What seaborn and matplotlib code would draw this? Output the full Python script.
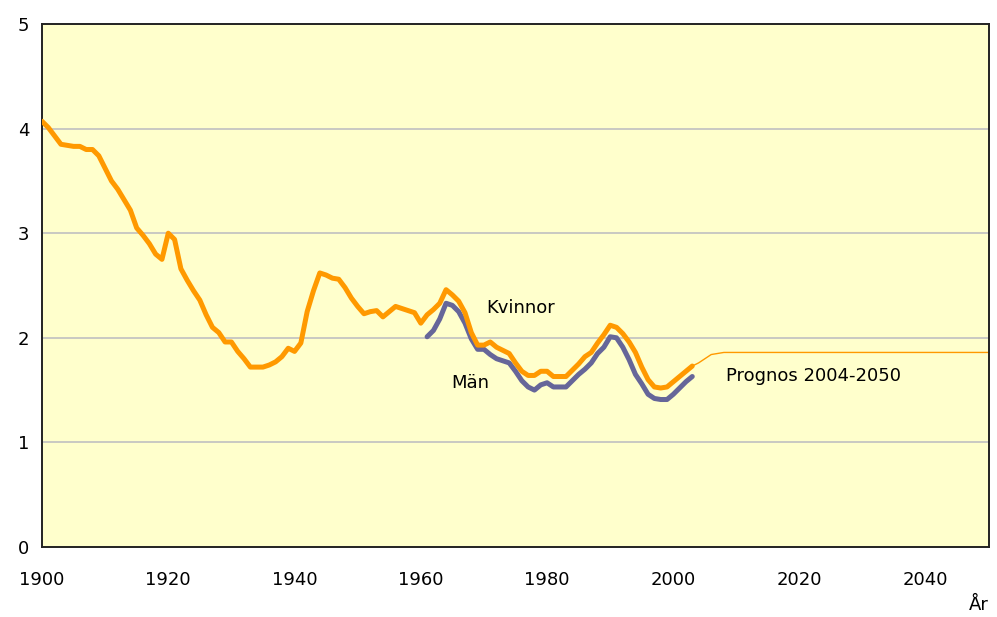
import numpy as np
import pandas as pd
import seaborn as sns
import matplotlib.pyplot as plt

# Summerad fruktsamhet, kvinnor 1900-2003
kvinnor_ar = list(range(1900, 2004))
kvinnor = [4.07, 4.01, 3.93, 3.85, 3.84, 3.83, 3.83, 3.80, 3.80, 3.74,
           3.62, 3.50, 3.42, 3.32, 3.22, 3.05, 2.98, 2.90, 2.80, 2.75,
           3.00, 2.94, 2.66, 2.55, 2.45, 2.36, 2.22, 2.10, 2.05, 1.96,
           1.96, 1.87, 1.80, 1.72, 1.72, 1.72, 1.74, 1.77, 1.82, 1.90,
           1.87, 1.95, 2.25, 2.45, 2.62, 2.60, 2.57, 2.56, 2.48, 2.38,
           2.30, 2.23, 2.25, 2.26, 2.20, 2.25, 2.30, 2.28, 2.26, 2.24,
           2.14, 2.22, 2.27, 2.33, 2.46, 2.41, 2.35, 2.24, 2.05, 1.93,
           1.93, 1.96, 1.91, 1.88, 1.85, 1.76, 1.68, 1.64, 1.64, 1.68,
           1.68, 1.63, 1.63, 1.63, 1.69, 1.75, 1.82, 1.86, 1.95, 2.03,
           2.12, 2.10, 2.04, 1.96, 1.86, 1.72, 1.60, 1.53, 1.52, 1.53,
           1.58, 1.63, 1.68, 1.73]

# Män 1961-2003
man_ar = list(range(1961, 2004))
man = [2.01, 2.07, 2.18, 2.33, 2.31, 2.25, 2.14, 1.99, 1.89,
       1.89, 1.84, 1.80, 1.78, 1.76, 1.68, 1.59, 1.53, 1.50, 1.55,
       1.57, 1.53, 1.53, 1.53, 1.59, 1.65, 1.70, 1.76, 1.85, 1.91,
       2.01, 2.00, 1.91, 1.79, 1.65, 1.56, 1.46, 1.42, 1.41, 1.41,
       1.46, 1.52, 1.58, 1.63]

# Prognos 2004-2050
prognos_ar = [2003, 2004, 2005, 2006, 2007, 2008, 2050]
prognos = [1.73, 1.76, 1.80, 1.84, 1.85, 1.86, 1.86]

xticks = list(range(1900, 2041, 20))
yticks = [0, 1, 2, 3, 4, 5]

orange = "#FF9900"
lila = "#666699"

sns.set_style("white")
plt.rcParams['font.family'] = ['DejaVu Sans']
plt.rcParams['text.color'] = 'black'

fig = plt.figure(figsize=(9.97, 6.17), dpi=100)
ax = fig.add_axes([42 / 997, 70 / 617, 947 / 997, 523 / 617])
ax.set_facecolor("#FFFFCC")

for y in [1, 2, 3, 4]:
    ax.axhline(y, color="#C0C0C0", lw=1.2, zorder=1)

df_k = pd.DataFrame({"ar": kvinnor_ar, "varde": kvinnor})
df_m = pd.DataFrame({"ar": man_ar, "varde": man})
df_p = pd.DataFrame({"ar": prognos_ar, "varde": prognos})

sns.lineplot(data=df_p, x="ar", y="varde", color=orange, lw=1.0, ax=ax, zorder=2)
sns.lineplot(data=df_m, x="ar", y="varde", color=lila, lw=3.6, ax=ax, zorder=3)
sns.lineplot(data=df_k, x="ar", y="varde", color=orange, lw=3.6, ax=ax, zorder=4)

ax.set_xlim(1900, 2050)
ax.set_ylim(0, 5)
ax.set_xticks(xticks)
ax.set_yticks(yticks)
ax.set_xlabel("")
ax.set_ylabel("")
ax.tick_params(axis="both", direction="out", length=5, width=1.2, color="black",
               labelsize=13, labelcolor="black")
ax.tick_params(axis="x", pad=12)
ax.tick_params(axis="y", pad=4)
for s in ax.spines.values():
    s.set_color("#222222")
    s.set_linewidth(1.4)

ax.text(1970.4, 2.285, "Kvinnor", fontsize=13, va="center", ha="left", color="black")
ax.text(1964.9, 1.568, "Män", fontsize=13, va="center", ha="left", color="black")
ax.text(2008.4, 1.635, "Prognos 2004-2050", fontsize=13, va="center", ha="left", color="black")
fig.text(979 / 997, 1 - 605 / 617, "År", fontsize=13, va="center", ha="center", color="black")

fig.savefig("out.png", dpi=100)
